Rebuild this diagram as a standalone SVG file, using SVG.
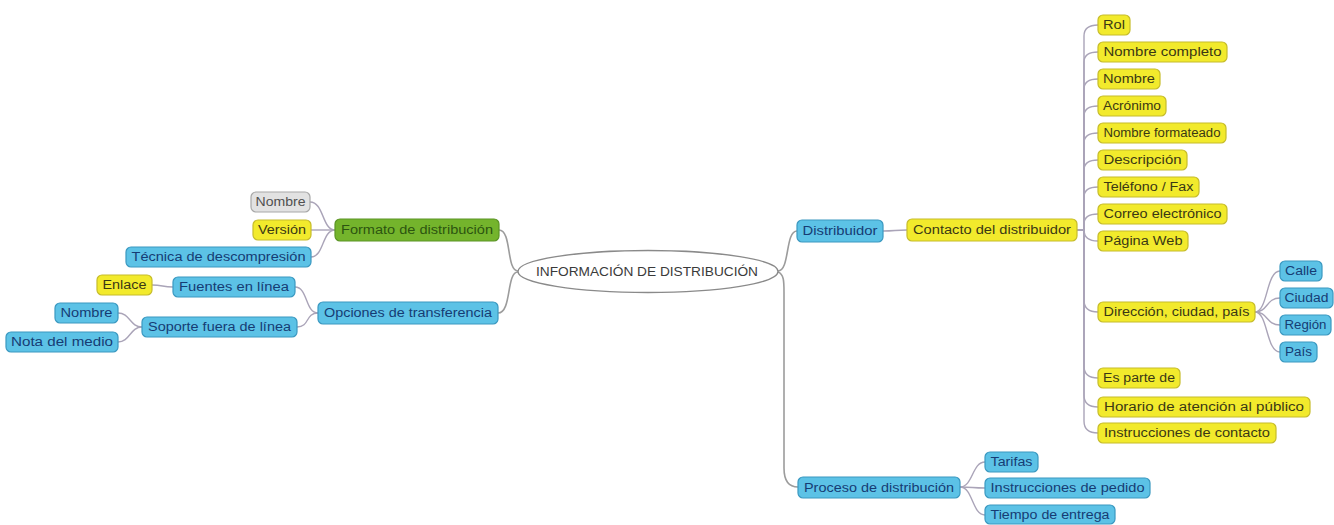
<svg xmlns="http://www.w3.org/2000/svg" width="1334" height="525" viewBox="0 0 1334 525">
  <style>
    .box rect { stroke-width: 1.2; }
    .blue rect { fill: #5cc2e6; stroke: #3a98c0; }
    .blue text { fill: #163c74; }
    .yellow rect { fill: #f2ea2c; stroke: #c6bc2a; }
    .yellow text { fill: #3a3814; }
    .green rect { fill: #74b42c; stroke: #5a9424; }
    .green text { fill: #2c5410; }
    .gray rect { fill: #e2e2e2; stroke: #a8a8a8; }
    .gray text { fill: #505050; }
    text { font-family: "Liberation Sans", Arial, sans-serif; font-size: 12.5px; text-anchor: middle; dominant-baseline: central; }
    .links path { fill: none; stroke: #aaa4b8; stroke-width: 1.4; }
    .links path.main { stroke: #9c9c9c; stroke-width: 1.6; }
  </style>
  <rect width="1334" height="525" fill="#ffffff"/>

  <!-- connectors -->
  <g class="links">
    <!-- root to main branches -->
    <path class="main" d="M518 271 C506 271 512 230 499 230"/>
    <path class="main" d="M518 272 C506 272 512 313 498 313"/>
    <path class="main" d="M778 271 C790 271 785 231 797 231"/>
    <path class="main" d="M778 272 C784 274 784 282 784 292 V468 Q784 487 798 487"/>
    <!-- Formato de distribución -->
    <path d="M335 230 C322 230 324 202 310 202"/>
    <path d="M335 230 H311"/>
    <path d="M335 230 C322 230 324 257 311 257"/>
    <!-- Opciones de transferencia -->
    <path d="M318 313 C305 313 308 287 295 287"/>
    <path d="M318 313 C305 313 310 327 297 327"/>
    <path d="M173 287 C162 287 163 285 152 285"/>
    <path d="M142 327 C130 327 130 313 118 313"/>
    <path d="M142 327 C130 327 130 342 118 342"/>
    <!-- Distribuidor -->
    <path d="M883 231 C895 231 895 230 907 230"/>
    <!-- Contacto del distribuidor -->
    <path d="M1077 230 H1084 V36 Q1084 25 1098 25"/>
    <path d="M1077 230 H1084 V62 Q1084 52 1098 52"/>
    <path d="M1077 230 H1084 V89 Q1084 79 1098 79"/>
    <path d="M1077 230 H1084 V116 Q1084 106 1098 106"/>
    <path d="M1077 230 H1084 V143 Q1084 133 1098 133"/>
    <path d="M1077 230 H1084 V170 Q1084 160 1098 160"/>
    <path d="M1077 230 H1084 V197 Q1084 187 1098 187"/>
    <path d="M1077 230 H1084 V224 Q1084 214 1098 214"/>
    <path d="M1077 230 H1084 Q1084 241 1098 241"/>
    <path d="M1077 230 H1084 V300 Q1084 312 1098 312"/>
    <path d="M1077 230 H1084 V366 Q1084 378 1098 378"/>
    <path d="M1077 230 H1084 V395 Q1084 407 1098 407"/>
    <path d="M1077 230 H1084 V421 Q1084 433 1098 433"/>
    <!-- Dirección, ciudad, país -->
    <path d="M1255 312 C1268 312 1266 271 1280 271"/>
    <path d="M1255 312 C1268 312 1266 298 1280 298"/>
    <path d="M1255 312 C1268 312 1266 325 1280 325"/>
    <path d="M1255 312 C1268 312 1266 352 1280 352"/>
    <!-- Proceso de distribución -->
    <path d="M960 487 C973 487 972 462 985 462"/>
    <path d="M960 487 C973 487 972 488 985 488"/>
    <path d="M960 487 C973 487 972 515 985 515"/>
  </g>

  <!-- root -->
  <g id="root">
    <ellipse cx="648" cy="271.5" rx="130" ry="21" fill="#ffffff" stroke="#8a8a8a" stroke-width="1.4"/>
    <text x="647" y="271.5" textLength="222" lengthAdjust="spacingAndGlyphs" style="fill:#3a3a3a;font-size:13px">INFORMACIÓN DE DISTRIBUCIÓN</text>
  </g>

  <!-- left side -->
  <g id="formato" class="box green"><rect x="335" y="219" width="164" height="22" rx="5"/><text x="417" y="230" textLength="152" lengthAdjust="spacingAndGlyphs">Formato de distribución</text></g>
  <g id="formato-nombre" class="box gray"><rect x="251" y="192" width="59" height="20" rx="5"/><text x="280.5" y="202" textLength="50" lengthAdjust="spacingAndGlyphs">Nombre</text></g>
  <g id="formato-version" class="box yellow"><rect x="253" y="220" width="58" height="20" rx="5"/><text x="282" y="230" textLength="48" lengthAdjust="spacingAndGlyphs">Versión</text></g>
  <g id="formato-tecnica" class="box blue"><rect x="126" y="247" width="185" height="20" rx="5"/><text x="218.5" y="257" textLength="174" lengthAdjust="spacingAndGlyphs">Técnica de descompresión</text></g>

  <g id="opciones" class="box blue"><rect x="318" y="302" width="180" height="22" rx="5"/><text x="408" y="313" textLength="168" lengthAdjust="spacingAndGlyphs">Opciones de transferencia</text></g>
  <g id="fuentes" class="box blue"><rect x="173" y="277" width="122" height="20" rx="5"/><text x="234" y="287" textLength="110" lengthAdjust="spacingAndGlyphs">Fuentes en línea</text></g>
  <g id="enlace" class="box yellow"><rect x="97" y="275" width="55" height="20" rx="5"/><text x="124.5" y="285" textLength="44" lengthAdjust="spacingAndGlyphs">Enlace</text></g>
  <g id="soporte" class="box blue"><rect x="142" y="317" width="155" height="20" rx="5"/><text x="219.5" y="327" textLength="143" lengthAdjust="spacingAndGlyphs">Soporte fuera de línea</text></g>
  <g id="soporte-nombre" class="box blue"><rect x="55" y="303" width="63" height="20" rx="5"/><text x="86.5" y="313" textLength="52" lengthAdjust="spacingAndGlyphs">Nombre</text></g>
  <g id="soporte-nota" class="box blue"><rect x="6" y="332" width="112" height="20" rx="5"/><text x="62" y="342" textLength="102" lengthAdjust="spacingAndGlyphs">Nota del medio</text></g>

  <!-- right side -->
  <g id="distribuidor" class="box blue"><rect x="797" y="220" width="86" height="22" rx="5"/><text x="840" y="231" textLength="75" lengthAdjust="spacingAndGlyphs">Distribuidor</text></g>
  <g id="contacto" class="box yellow"><rect x="907" y="219" width="170" height="22" rx="5"/><text x="992" y="230" textLength="158" lengthAdjust="spacingAndGlyphs">Contacto del distribuidor</text></g>

  <g id="rol" class="box yellow"><rect x="1098" y="15" width="32" height="20" rx="5"/><text x="1114" y="25" textLength="22" lengthAdjust="spacingAndGlyphs">Rol</text></g>
  <g id="nombre-completo" class="box yellow"><rect x="1098" y="42" width="129" height="20" rx="5"/><text x="1162.5" y="52" textLength="118" lengthAdjust="spacingAndGlyphs">Nombre completo</text></g>
  <g id="nombre" class="box yellow"><rect x="1098" y="69" width="62" height="20" rx="5"/><text x="1129" y="79" textLength="52" lengthAdjust="spacingAndGlyphs">Nombre</text></g>
  <g id="acronimo" class="box yellow"><rect x="1098" y="96" width="68" height="20" rx="5"/><text x="1132" y="106" textLength="58" lengthAdjust="spacingAndGlyphs">Acrónimo</text></g>
  <g id="nombre-formateado" class="box yellow"><rect x="1098" y="123" width="128" height="20" rx="5"/><text x="1162" y="133" textLength="117" lengthAdjust="spacingAndGlyphs">Nombre formateado</text></g>
  <g id="descripcion" class="box yellow"><rect x="1098" y="150" width="89" height="20" rx="5"/><text x="1142.5" y="160" textLength="78" lengthAdjust="spacingAndGlyphs">Descripción</text></g>
  <g id="telefono" class="box yellow"><rect x="1098" y="177" width="101" height="20" rx="5"/><text x="1148.5" y="187" textLength="90" lengthAdjust="spacingAndGlyphs">Teléfono / Fax</text></g>
  <g id="correo" class="box yellow"><rect x="1098" y="204" width="129" height="20" rx="5"/><text x="1162.5" y="214" textLength="118" lengthAdjust="spacingAndGlyphs">Correo electrónico</text></g>
  <g id="pagina-web" class="box yellow"><rect x="1098" y="231" width="90" height="20" rx="5"/><text x="1143" y="241" textLength="79" lengthAdjust="spacingAndGlyphs">Página Web</text></g>
  <g id="direccion" class="box yellow"><rect x="1098" y="302" width="157" height="20" rx="5"/><text x="1176.5" y="312" textLength="146" lengthAdjust="spacingAndGlyphs">Dirección, ciudad, país</text></g>
  <g id="es-parte-de" class="box yellow"><rect x="1098" y="368" width="82" height="20" rx="5"/><text x="1139" y="378" textLength="72" lengthAdjust="spacingAndGlyphs">Es parte de</text></g>
  <g id="horario" class="box yellow"><rect x="1098" y="397" width="212" height="20" rx="5"/><text x="1204" y="407" textLength="200" lengthAdjust="spacingAndGlyphs">Horario de atención al público</text></g>
  <g id="instrucciones-contacto" class="box yellow"><rect x="1098" y="423" width="178" height="20" rx="5"/><text x="1187" y="433" textLength="166" lengthAdjust="spacingAndGlyphs">Instrucciones de contacto</text></g>

  <g id="calle" class="box blue"><rect x="1280" y="261" width="42" height="20" rx="5"/><text x="1301" y="271" textLength="32" lengthAdjust="spacingAndGlyphs">Calle</text></g>
  <g id="ciudad" class="box blue"><rect x="1280" y="288" width="53" height="20" rx="5"/><text x="1306.5" y="298" textLength="44" lengthAdjust="spacingAndGlyphs">Ciudad</text></g>
  <g id="region" class="box blue"><rect x="1280" y="315" width="51" height="20" rx="5"/><text x="1305.5" y="325" textLength="42" lengthAdjust="spacingAndGlyphs">Región</text></g>
  <g id="pais" class="box blue"><rect x="1280" y="342" width="37" height="20" rx="5"/><text x="1298.5" y="352" textLength="27" lengthAdjust="spacingAndGlyphs">País</text></g>

  <g id="proceso" class="box blue"><rect x="798" y="477" width="162" height="21" rx="5"/><text x="879" y="487.5" textLength="150" lengthAdjust="spacingAndGlyphs">Proceso de distribución</text></g>
  <g id="tarifas" class="box blue"><rect x="985" y="452" width="53" height="20" rx="5"/><text x="1011.5" y="462" textLength="42" lengthAdjust="spacingAndGlyphs">Tarifas</text></g>
  <g id="instrucciones-pedido" class="box blue"><rect x="985" y="478" width="165" height="20" rx="5"/><text x="1067.5" y="488" textLength="154" lengthAdjust="spacingAndGlyphs">Instrucciones de pedido</text></g>
  <g id="tiempo" class="box blue"><rect x="985" y="505" width="130" height="19" rx="5"/><text x="1050" y="514.5" textLength="119" lengthAdjust="spacingAndGlyphs">Tiempo de entrega</text></g>
</svg>
